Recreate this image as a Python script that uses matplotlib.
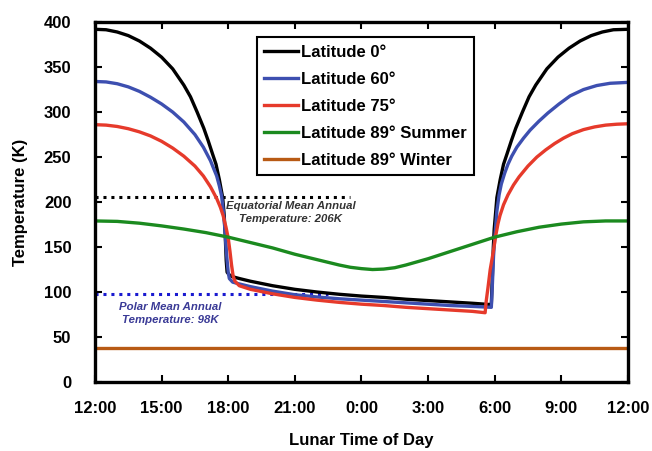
import matplotlib
matplotlib.use("Agg")
import matplotlib.pyplot as plt

# hours after local noon (12:00 -> 0, 0:00 -> 12, 12:00 -> 24)
t_lat0 = [0, 0.5, 1.0, 1.5, 2.0, 2.5, 3.0, 3.5, 4.0, 4.3, 4.6, 4.9, 5.1, 5.3, 5.45, 5.6,
          5.75, 5.82, 5.87, 5.91, 5.95, 6.05, 6.2, 6.5, 7, 8, 9, 10, 11, 12, 13, 14, 15,
          16, 17, 17.85, 17.9, 17.94, 17.98, 18.05, 18.1, 18.25, 18.4, 18.55, 18.75,
          18.95, 19.25, 19.55, 19.85, 20.35, 20.85, 21.35, 21.85, 22.35, 22.85, 23.35, 24]
T_lat0 = [392, 391.5, 389, 385, 379, 371, 361, 348, 330, 317, 300, 282, 268, 253, 242, 225,
          205, 185, 160, 135, 122, 119, 117, 115, 112, 107, 103, 100, 97.5, 95.5, 94, 92, 90.5,
          89, 87.5, 86, 120, 150, 170, 190, 205, 225, 242, 253, 268,
          282, 300, 317, 330, 348, 361, 371, 379, 385, 389, 391.5, 392]

t_lat60 = [0, 0.5, 1.0, 1.5, 2.0, 2.5, 3.0, 3.5, 4.0, 4.5, 4.88, 5.2, 5.48, 5.6, 5.7, 5.78,
           5.85, 5.9, 5.95, 6.0, 6.05, 6.2, 6.5, 7, 8, 9, 10, 11, 12, 13, 14, 15, 16, 17,
           17.85, 17.9, 17.95, 18.02, 18.1, 18.2, 18.3, 18.45, 18.6, 18.77, 19.0, 19.3,
           19.6, 20.0, 20.4, 20.9, 21.4, 22.0, 22.6, 23.2, 24]
T_lat60 = [334, 333.5, 331.5, 328, 323, 316.5, 309, 300, 289, 275, 261, 246, 229, 218, 207, 190,
           170, 150, 135, 122, 115, 111, 109, 106, 101, 97, 94.5, 92.5, 91, 89.5, 88, 86.5, 85, 84,
           83, 110, 140, 165, 190, 208, 220, 232, 242, 251, 261, 271,
           280, 290, 299, 309, 318, 325, 329.5, 332, 333]

t_lat75 = [0, 0.5, 1.0, 1.5, 2.0, 2.5, 3.0, 3.5, 4.0, 4.5, 4.88, 5.2, 5.48, 5.65, 5.77,
           5.9, 6.0, 6.08, 6.15, 6.22, 6.3, 6.5, 7, 8, 9, 10, 11, 12, 13, 14, 15, 16, 17,
           17.57, 17.62, 17.7, 17.8, 17.94, 18.05, 18.15, 18.24, 18.4, 18.6, 18.85, 19.1,
           19.5, 19.9, 20.3, 20.7, 21.1, 21.5, 22.0, 22.5, 23.0, 23.5, 24]
T_lat75 = [286, 285.5, 284, 281.5, 278, 273.5, 267.5, 260, 251, 240, 229, 217, 204, 194, 185,
           172, 160, 145, 130, 118, 112, 107, 103, 98, 94, 91, 88.5, 86.5, 85, 83, 81.5, 80, 78.5,
           77, 90, 105, 125, 145, 163, 176, 185, 197, 208, 219, 228,
           240, 250, 258, 265, 271, 276, 280.5, 283.5, 285.5, 286.5, 287]

t_sum = [0, 1, 2, 3, 4, 5, 6, 7, 8, 9, 10, 11, 11.5, 12, 12.5, 13, 13.5, 14, 15, 16, 17,
         18, 19, 20, 21, 22, 23, 24]
T_sum = [179, 178.5, 176.5, 173.5, 170, 166, 161, 155, 149, 142, 136, 130, 127.5, 126, 125,
         125.5, 127, 130, 137, 145, 153, 161, 167, 172, 175.5, 178, 179, 179]

t_win = [0, 24]
T_win = [38, 38]

eq_mean = 206
polar_mean = 98

xticks = [0, 3, 6, 9, 12, 15, 18, 21, 24]
xticklabels = ["12:00", "15:00", "18:00", "21:00", "0:00", "3:00", "6:00", "9:00", "12:00"]
yticks = [0, 50, 100, 150, 200, 250, 300, 350, 400]

series = [
    (t_lat0, T_lat0, "Latitude 0°", "#000000"),
    (t_lat60, T_lat60, "Latitude 60°", "#3d4fb0"),
    (t_lat75, T_lat75, "Latitude 75°", "#e63a2b"),
    (t_sum, T_sum, "Latitude 89° Summer", "#1b8a1f"),
    (t_win, T_win, "Latitude 89° Winter", "#b85a14"),
]

plt.rcParams["font.family"] = ["Liberation Sans", "DejaVu Sans"]
plt.rcParams["font.weight"] = "bold"

fig = plt.figure(figsize=(6.52, 4.51), dpi=100)
ax = fig.add_axes([0.1457, 0.153, 0.8173, 0.798])

ax.plot([0, 11.5], [eq_mean, eq_mean], color="black", ls=(0, (1, 1.6)), lw=2.2)
ax.plot([0, 10.5], [polar_mean, polar_mean], color="#1a1ad0", ls=(0, (1, 1.6)), lw=2.2)

for t, T, name, c in series:
    ax.plot(t, T, color=c, lw=2.4, label=name, solid_joinstyle="round")

ax.text(8.8, 201, "Equatorial Mean Annual\nTemperature: 206K", fontsize=8.2,
        style="italic", weight="bold", color="#333333", ha="center", va="top",
        multialignment="center", linespacing=1.35)
ax.text(3.4, 89, "Polar Mean Annual\nTemperature: 98K", fontsize=8.2,
        style="italic", weight="bold", color="#3a3a96", ha="center", va="top",
        multialignment="center", linespacing=1.35)

ax.set_xlim(0, 24)
ax.set_ylim(0, 400)
ax.set_xticks(xticks)
ax.set_xticklabels(xticklabels)
ax.set_yticks(yticks)
ax.tick_params(axis="both", direction="in", length=5, width=1.5, top=True, right=True,
               labelsize=12)
ax.tick_params(axis="x", pad=14)
ax.tick_params(axis="y", pad=17)
for s in ax.spines.values():
    s.set_linewidth(2.4)

ax.set_xlabel("Lunar Time of Day", fontsize=12, weight="bold", labelpad=12)
ax.set_ylabel("Temperature (K)", fontsize=12, weight="bold", labelpad=11)

leg = ax.legend(loc="upper left", bbox_to_anchor=(0.304, 0.958), borderaxespad=0,
                fancybox=False, edgecolor="black", framealpha=1,
                prop={"size": 12, "weight": "bold"}, handlelength=2.0,
                handletextpad=0.2, labelspacing=0.72, borderpad=0.45)
leg.get_frame().set_linewidth(1.5)

fig.savefig("out.png", dpi=100)
